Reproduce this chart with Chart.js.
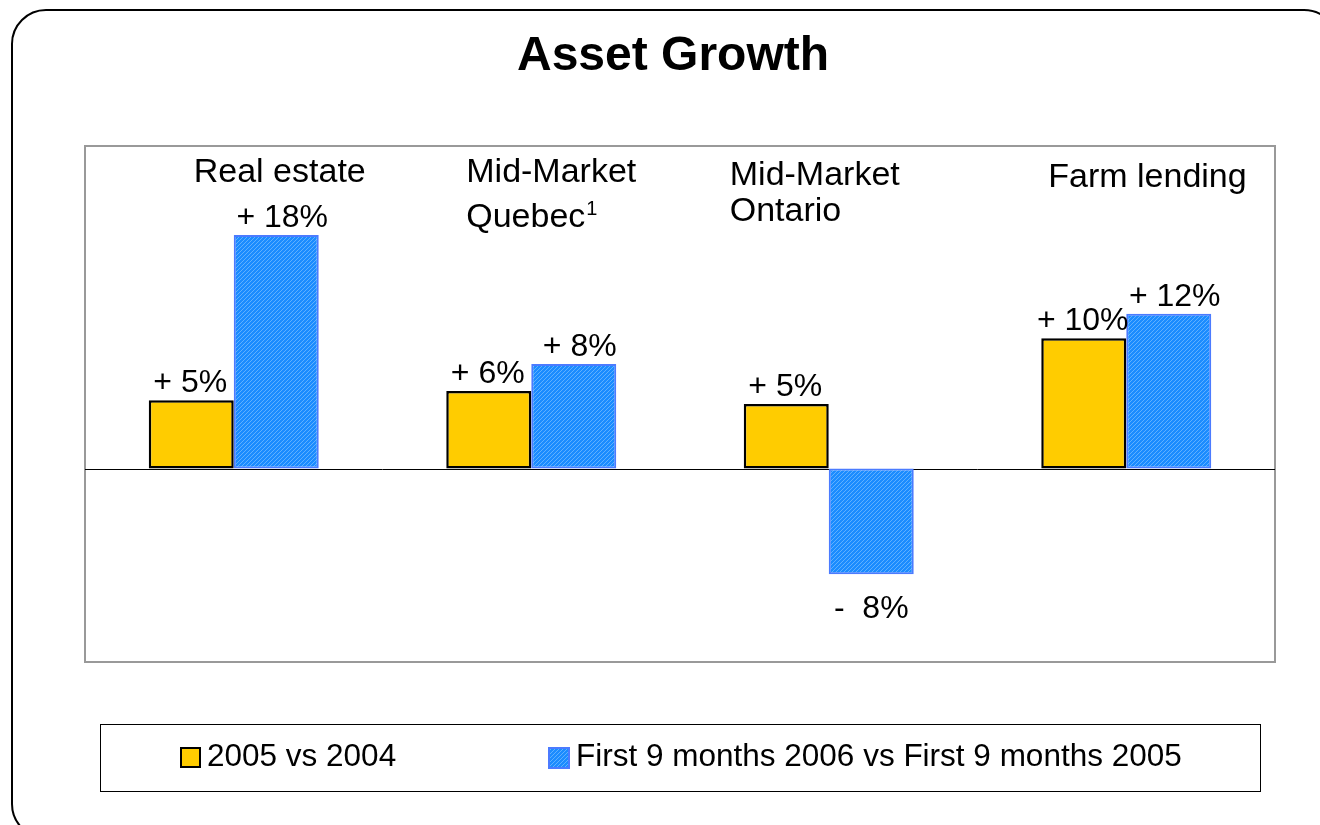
<!DOCTYPE html>
<html>
<head>
<meta charset="utf-8">
<title>Asset Growth</title>
<script src="https://cdn.jsdelivr.net/npm/chart.js@4/dist/chart.umd.min.js"></script>
<style>
  html, body { margin: 0; padding: 0; background: #fff; overflow: hidden; }
  #wrap { position: relative; width: 1320px; height: 825px; }
</style>
</head>
<body>
<div id="wrap"><canvas id="growthChart" width="1320" height="825"></canvas></div>
<script>
// ----- DATA -----
const categories = ["Real estate", "Mid-Market Quebec", "Mid-Market Ontario", "Farm lending"];
const categoryLines = [["Real estate"], ["Mid-Market", "Quebec"], ["Mid-Market", "Ontario"], ["Farm lending"]];
const seriesNames = ["2005 vs 2004", "First 9 months 2006 vs First 9 months 2005"];
const growth2005 = [5.3, 6.0, 5.0, 10.1];
const growth2006 = [18.1, 8.1, -8.2, 12.0];
const labels2005 = ["+ 5%", "+ 6%", "+ 5%", "+ 10%"];
const labels2006 = ["+ 18%", "+ 8%", "-  8%", "+ 12%"];

const FONT = "Arial, 'Liberation Sans', sans-serif";

// hatched blue fill
function makeHatch() {
  const c = document.createElement("canvas");
  c.width = 4; c.height = 4;
  const g = c.getContext("2d");
  g.fillStyle = "#1b8cff";
  g.fillRect(0, 0, 4, 4);
  g.strokeStyle = "#5fb0ff";
  g.lineWidth = 1;
  g.beginPath();
  g.moveTo(0, 4); g.lineTo(4, 0);
  g.moveTo(-1, 1); g.lineTo(1, -1);
  g.moveTo(3, 5); g.lineTo(5, 3);
  g.stroke();
  return g.createPattern(c, "repeat");
}
const ctxMain = document.getElementById("growthChart").getContext("2d");
const hatch = makeHatch();

// label placement (left edge offset from category centre, first baseline, line gap)
const catLayout = [
  { dx: -40, y: 182, gap: 40 },
  { dx: -65, y: 182, gap: 45 },
  { dx: -99, y: 185, gap: 36 },
  { dx: -78, y: 187, gap: 40 }
];
// small horizontal nudge of value labels per series
const labelShift = [-1, 6];

const decorPlugin = {
  id: "decor",
  beforeDraw(chart) {
    const ctx = chart.ctx;
    const a = chart.chartArea;
    ctx.save();
    ctx.fillStyle = "#fff";
    ctx.fillRect(0, 0, chart.width, chart.height);

    // outer rounded frame
    ctx.strokeStyle = "#000";
    ctx.lineWidth = 2;
    ctx.beginPath();
    ctx.roundRect(12, 10, 1326, 828, 34);
    ctx.stroke();

    // plot frame
    ctx.strokeStyle = "#999";
    ctx.lineWidth = 2;
    ctx.strokeRect(a.left, a.top, a.right - a.left, a.bottom - a.top);

    // zero line
    const y0 = Math.round(chart.scales.y.getPixelForValue(0)) + 0.5;
    ctx.strokeStyle = "#000";
    ctx.lineWidth = 1;
    ctx.beginPath();
    ctx.moveTo(a.left, y0);
    ctx.lineTo(a.right, y0);
    ctx.stroke();

    // title
    ctx.fillStyle = "#000";
    ctx.font = "bold 48px " + FONT;
    ctx.textAlign = "center";
    ctx.textBaseline = "alphabetic";
    ctx.fillText("Asset Growth", 673, 70);
    ctx.restore();
  },
  afterDatasetsDraw(chart) {
    const ctx = chart.ctx;
    const xs = chart.scales.x;
    ctx.save();
    ctx.fillStyle = "#000";
    ctx.textBaseline = "alphabetic";

    // category names inside the plot
    ctx.font = "34px " + FONT;
    ctx.textAlign = "left";
    categoryLines.forEach((lines, i) => {
      const left = xs.getPixelForValue(i) + catLayout[i].dx;
      lines.forEach((t, k) => {
        const y = catLayout[i].y + k * catLayout[i].gap;
        ctx.fillText(t, left, y);
        if (i === 1 && k === 1) {
          const w = ctx.measureText(t).width;
          ctx.font = "20px " + FONT;
          ctx.fillText("1", left + w + 1, y - 12);
          ctx.font = "34px " + FONT;
        }
      });
    });

    // value labels
    ctx.font = "32px " + FONT;
    ctx.textAlign = "center";
    [labels2005, labels2006].forEach((lbls, d) => {
      const meta = chart.getDatasetMeta(d);
      meta.data.forEach((bar, i) => {
        const v = chart.data.datasets[d].data[i];
        if (v >= 0) {
          ctx.fillText(lbls[i], bar.x + labelShift[d], bar.y - 8);
        } else {
          ctx.fillText(lbls[i], bar.x, bar.y + 44);
        }
      });
    });

    // legend box
    ctx.strokeStyle = "#000";
    ctx.lineWidth = 1;
    ctx.strokeRect(100.5, 724.5, 1160, 67);
    ctx.font = "31.5px " + FONT;
    ctx.textAlign = "left";
    // yellow swatch
    ctx.fillStyle = "#ffcc00";
    ctx.fillRect(181, 748, 19, 19);
    ctx.strokeStyle = "#000";
    ctx.lineWidth = 2;
    ctx.strokeRect(181, 748, 19, 19);
    ctx.fillStyle = "#000";
    ctx.fillText(seriesNames[0], 207, 766);
    // blue swatch
    ctx.fillStyle = hatch;
    ctx.fillRect(549, 748, 20, 20);
    ctx.strokeStyle = "#4b7bff";
    ctx.lineWidth = 2;
    ctx.strokeRect(549, 748, 20, 20);
    ctx.fillStyle = "#000";
    ctx.fillText(seriesNames[1], 576, 766);
    ctx.restore();
  }
};

new Chart(ctxMain, {
  type: "bar",
  data: {
    labels: categories,
    datasets: [
      {
        label: seriesNames[0],
        data: growth2005,
        backgroundColor: "#ffcc00",
        borderColor: "#000",
        borderWidth: 2.5,
        borderSkipped: false
      },
      {
        label: seriesNames[1],
        data: growth2006,
        backgroundColor: hatch,
        borderColor: "#4b7bff",
        borderWidth: 2,
        borderSkipped: false
      }
    ]
  },
  options: {
    responsive: false,
    animation: false,
    layout: { padding: { left: 85, right: 45, top: 146, bottom: 163 } },
    datasets: { bar: { categoryPercentage: 0.5714, barPercentage: 1 } },
    plugins: {
      legend: { display: false },
      tooltip: { enabled: false },
      title: { display: false }
    },
    scales: {
      x: { display: false, offset: true },
      y: { display: false, min: -15, max: 25 }
    }
  },
  plugins: [decorPlugin]
});
</script>
</body>
</html>
